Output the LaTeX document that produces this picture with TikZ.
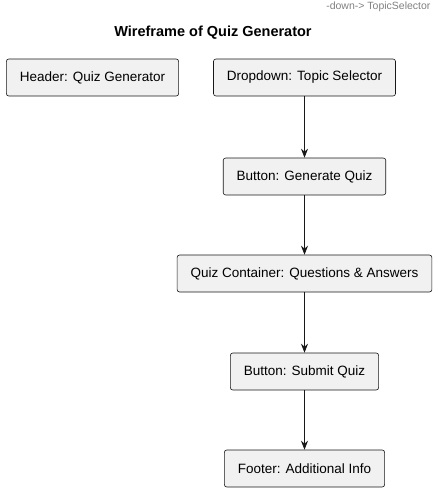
\documentclass[tikz,border=0pt]{standalone}
\usepackage{fontspec}
\setmainfont{Liberation Sans}
\usetikzlibrary{arrows.meta}
\definecolor{boxfill}{HTML}{F1F1F1}
\definecolor{boxline}{HTML}{181818}
\tikzset{
  widget/.style={draw=boxline, fill=boxfill, rounded corners=2.5pt, line width=0.6pt,
    minimum height=37pt, inner xsep=13.5pt, font=\fontsize{13.5}{16}\selectfont},
  flow/.style={-{Stealth[length=9pt, width=7pt]}, line width=0.7pt, color=boxline}
}
\begin{document}
\begin{tikzpicture}[x=1pt, y=-1pt]
        \useasboundingbox (0,0) rectangle (437,493);
        % texts above the boxes
        \node[font=\fontsize{10.5}{12}\selectfont, text=gray, anchor=east] (hint) at (434,7) {-down-> TopicSelector};
        \node[font=\bfseries\fontsize{14.5}{17}\selectfont] (title) at (213,33) {Wireframe of Quiz Generator};

        % draw boxes by coordinates
        \node[widget] (header) at (92.5,77.5) {Header: Quiz Generator};
        \node[widget] (topic) at (304.5,77.5) {Dropdown: Topic Selector};
        \node[widget] (generate) at (304.5,176.5) {Button: Generate Quiz};
        \node[widget] (container) at (304.5,273.5) {Quiz Container: Questions \& Answers};
        \node[widget] (submit) at (304.5,371.5) {Button: Submit Quiz};
        \node[widget] (footer) at (304.5,468.5) {Footer: Additional Info};

        % draw connectors
        \draw[flow] (topic) -- (generate);
        \draw[flow] (generate) -- (container);
        \draw[flow] (container) -- (submit);
        \draw[flow] (submit) -- (footer);
    \end{tikzpicture}
\end{document}
